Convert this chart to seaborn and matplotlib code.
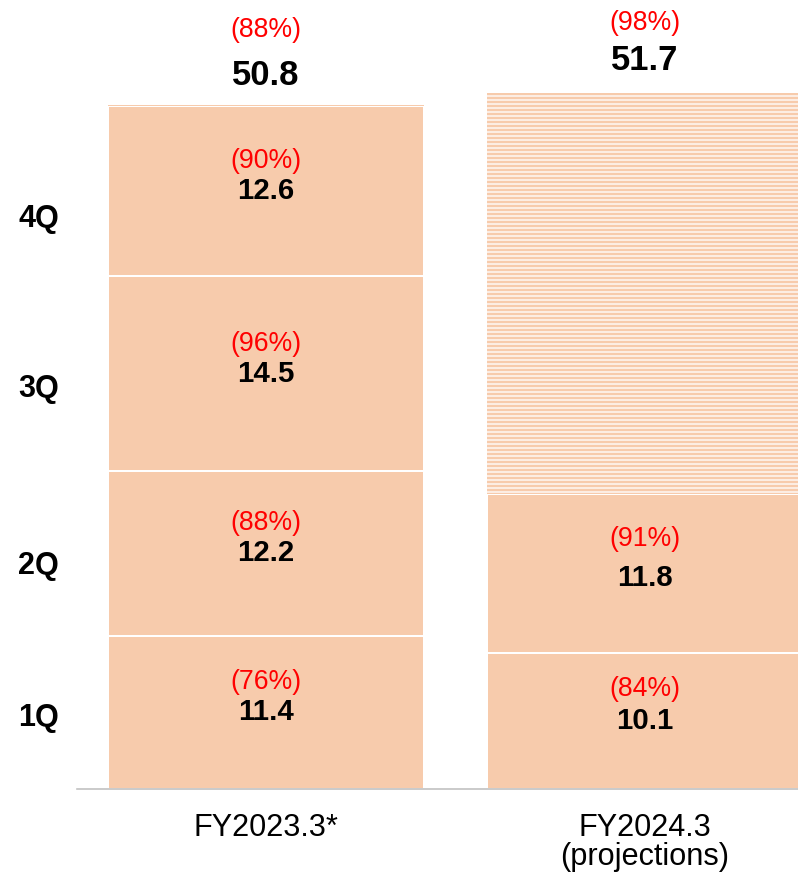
import matplotlib
matplotlib.use("Agg")
import matplotlib.pyplot as plt
import seaborn as sns
import numpy as np

sns.set_theme(style="white")
plt.rcParams['font.family'] = ['Liberation Sans', 'DejaVu Sans']
plt.rcParams['hatch.linewidth'] = 2.0
plt.rcParams['text.color'] = 'black'
plt.rcParams['xtick.color'] = 'black'
plt.rcParams['ytick.color'] = 'black'

# ---- data ----
categories = ["FY2023.3*", "FY2024.3\n(projections)"]
quarters = ["1Q", "2Q", "3Q", "4Q"]
fy2023_values = [11.4, 12.2, 14.5, 12.6]
fy2023_pcts = ["(76%)", "(88%)", "(96%)", "(90%)"]
fy2024_values = [10.1, 11.8]
fy2024_pcts = ["(84%)", "(91%)"]
totals = [50.8, 51.7]
total_pcts = ["(88%)", "(98%)"]

PEACH = "#F7CBAC"
RED = "#FF0000"

DPI = 96
PX = 72 / DPI  # points per pixel

fig = plt.figure(figsize=(798 / DPI, 875 / DPI), dpi=DPI)
ax = fig.add_axes([77/798, (875-789)/875, (798-77)/798, 789/875])

W = 0.834
seg_values = [fy2023_values, fy2024_values]
seg_pcts = [fy2023_pcts, fy2024_pcts]
pct_offsets_px = [[30, 30, 30, 30], [32, 39]]
val_offsets_px = [[0, 0, 0, 0], [0, -4]]

for ci, (cat, vals, pcts) in enumerate(zip(categories, seg_values, seg_pcts)):
    bottom = 0.0
    for qi, v in enumerate(vals):
        sns.barplot(x=[cat], y=[v], order=categories, bottom=bottom, width=W,
                    color=PEACH, saturation=1, edgecolor="white", linewidth=1.5,
                    ax=ax)
        mid = bottom + v / 2
        vo = val_offsets_px[ci][qi]
        ax.annotate(f"{v:.1f}", (ci, mid), xytext=(0, vo * PX),
                    textcoords="offset points", ha="center", va="center",
                    fontsize=22, fontweight="bold", color="black")
        ax.annotate(pcts[qi], (ci, mid), xytext=(0, (pct_offsets_px[ci][qi] + vo) * PX),
                    textcoords="offset points", ha="center", va="center",
                    fontsize=20, color=RED)
        bottom += v
    if bottom < totals[ci] - 1e-9:
        rem = totals[ci] - bottom
        sns.barplot(x=[cat], y=[rem], order=categories, bottom=bottom, width=W,
                    color="white", saturation=1, edgecolor=PEACH, linewidth=0,
                    hatch="----", ax=ax)

# totals
tot_val_off_px = [30, 32]
tot_pct_off_px = [75, 70]
for ci, (t, p) in enumerate(zip(totals, total_pcts)):
    ax.annotate(f"{t:.1f}", (ci, t), xytext=(0, tot_val_off_px[ci] * PX),
                textcoords="offset points", ha="center", va="center",
                fontsize=26, fontweight="bold", color="black")
    ax.annotate(p, (ci, t), xytext=(0, tot_pct_off_px[ci] * PX),
                textcoords="offset points", ha="center", va="center",
                fontsize=20, color=RED)

for patch in ax.patches:
    if patch.get_hatch():
        patch.set_facecolor("white")
        patch.set_edgecolor(PEACH)
        patch.set_linewidth(0)
        patch.set_antialiased(False)

ax.set_xlim(-189/379, (798-77)/379 - 189/379)
ax.set_ylim(0, 58.6)

quarter_label_pos = [5.5, 16.8, 30.0, 42.6]
ax.set_yticks(quarter_label_pos)
ax.set_yticklabels(quarters, fontsize=23, fontweight="bold", color="black")
ax.tick_params(axis="y", length=0, pad=18 * PX)
ax.tick_params(axis="x", length=0, pad=24 * PX, labelsize=23, labelcolor="black")
for lbl in ax.get_xticklabels():
    lbl.set_linespacing(0.95)
ax.set_xlabel("")
ax.set_ylabel("")

for s in ["top", "right", "left"]:
    ax.spines[s].set_visible(False)
ax.spines["bottom"].set_color("#BFBFBF")
ax.spines["bottom"].set_linewidth(1.2)

fig.savefig("out.png", dpi=DPI)
